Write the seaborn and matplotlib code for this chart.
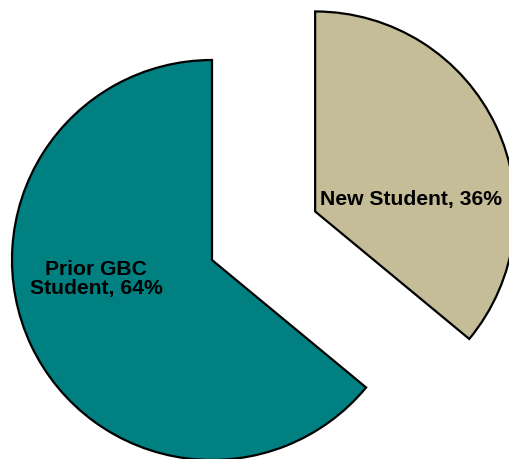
import matplotlib
matplotlib.use("Agg")
import matplotlib.pyplot as plt
import seaborn as sns

# Data
categories = ["New Student", "Prior GBC Student"]
shares = [36, 64]
colors = ["#C4BD97", "#008080"]
label_texts = ["New Student, 36%", "Prior GBC\nStudent, 64%"]

sns.set_style("white")
plt.rcParams['font.family'] = ['Liberation Sans', 'DejaVu Sans']

fig = plt.figure(figsize=(5.09, 4.59), dpi=100)
ax = fig.add_axes([0, 0, 1, 1])

wedges, texts = ax.pie(
    shares,
    labels=label_texts,
    colors=colors,
    startangle=90,
    counterclock=False,
    explode=[0.57, 0],
    radius=1.0,
    labeldistance=0.6,
    wedgeprops={'edgecolor': 'black', 'linewidth': 1.6},
    textprops={'fontsize': 15.2, 'fontweight': 'bold', 'color': 'black'},
)

# nudge labels to where the reference puts them
texts[0].set_position((0.995, 0.305))
texts[1].set_position((-0.58, -0.095))
for t in texts:
    t.set_ha('center')
    t.set_va('center')
    t.set_multialignment('center')
    t.set_linespacing(0.95)

ax.set_xlim(-1.06, 1.485)
ax.set_ylim(-0.995, 1.30)
ax.set_aspect('equal')
ax.axis('off')

fig.savefig("out.png", dpi=100)
